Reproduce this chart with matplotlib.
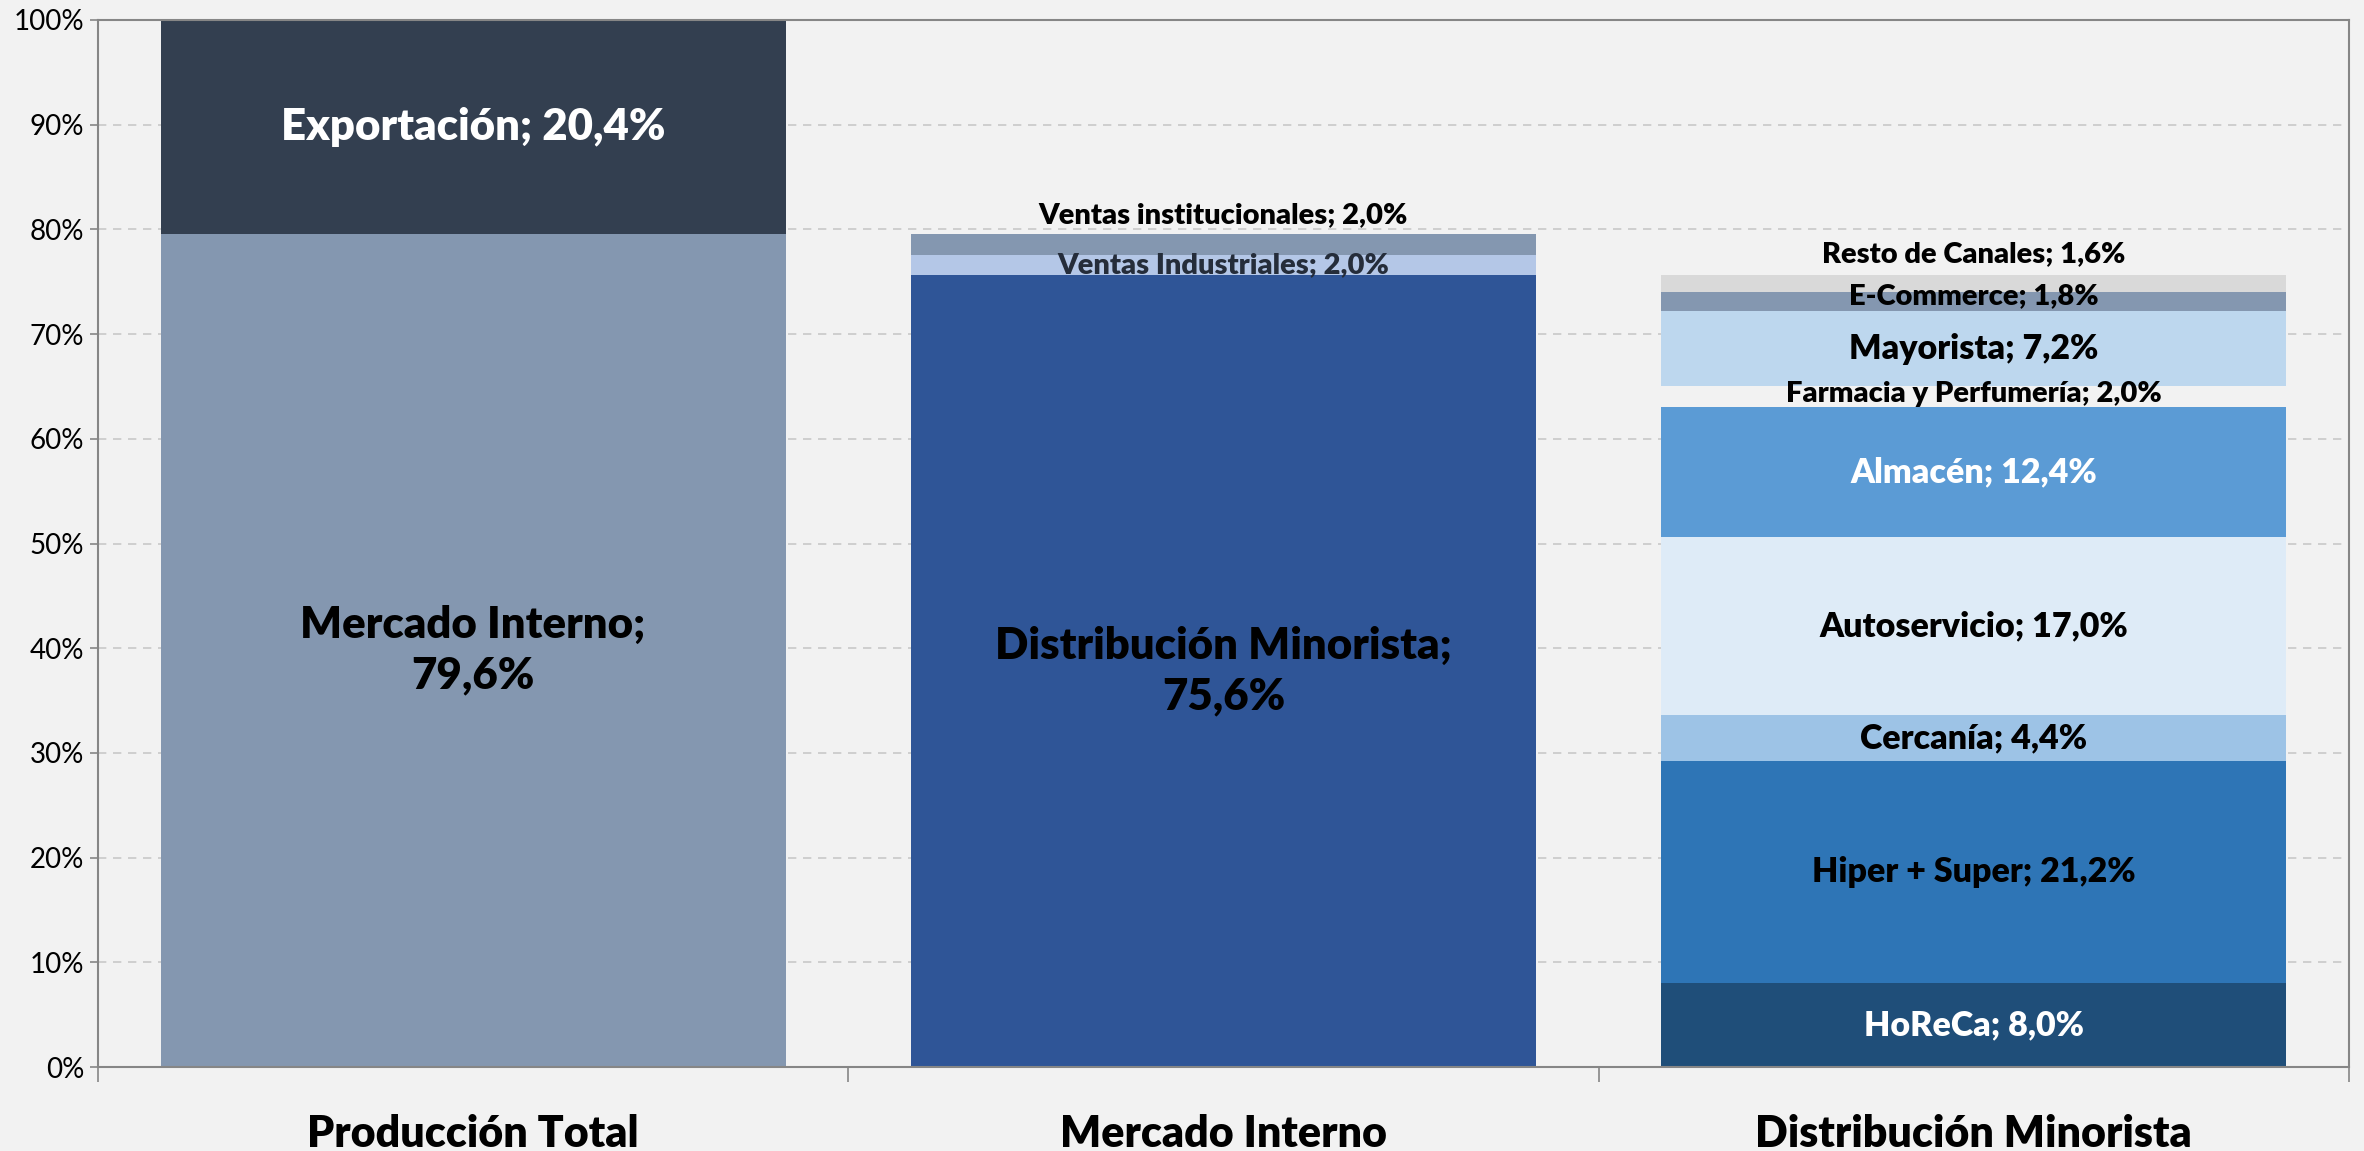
import matplotlib
matplotlib.use("Agg")
from matplotlib import pyplot as plt
import numpy as np

plt.rcParams['font.family'] = ['Lato', 'DejaVu Sans']

categorias = ["Producción Total", "Mercado Interno", "Distribución Minorista"]

prod_nombres = ["Mercado Interno", "Exportación"]
prod_valores = [79.6, 20.4]

mi_nombres = ["Distribución Minorista", "Ventas Industriales", "Ventas institucionales"]
mi_valores = [75.6, 2.0, 2.0]

dm_nombres = ["HoReCa", "Hiper + Super", "Cercanía", "Autoservicio", "Almacén",
              "Farmacia y Perfumería", "Mayorista", "E-Commerce", "Resto de Canales"]
dm_valores = [8.0, 21.2, 4.4, 17.0, 12.4, 2.0, 7.2, 1.8, 1.6]

# estilo de cada segmento: (color, color texto, tamaño, desplazamiento etiqueta, salto de linea)
estilo = {
    "Mercado Interno": ("#8497b0", "black", 31.5, 0, True),
    "Exportación": ("#333f50", "white", 31.5, 0, False),
    "Distribución Minorista": ("#2f5597", "black", 31.5, 0, True),
    "Ventas Industriales": ("#b4c7e7", "#252d3a", 21, 0, False),
    "Ventas institucionales": ("#8497b0", "black", 21, 2.8, False),
    "HoReCa": ("#1f4e79", "white", 24.5, 0, False),
    "Hiper + Super": ("#2e75b6", "black", 24.5, 0, False),
    "Cercanía": ("#9dc3e6", "black", 24.5, 0, False),
    "Autoservicio": ("#deebf7", "black", 24.5, 0, False),
    "Almacén": ("#5b9bd5", "white", 24.5, 0, False),
    "Farmacia y Perfumería": ("#f2f2f2", "black", 21, 0.3, False),
    "Mayorista": ("#bdd7ee", "black", 24.5, 0, False),
    "E-Commerce": ("#8497b0", "black", 21, 0.5, False),
    "Resto de Canales": ("#d9d9d9", "black", 21, 2.8, False),
}

fig = plt.figure(figsize=(23.64, 11.51), dpi=100)
fig.patch.set_facecolor("#f2f2f2")
ax = fig.add_axes([98 / 2364, 84 / 1151, 2251 / 2364, 1047 / 1151])
ax.set_facecolor("#f2f2f2")

ancho = 0.833
pilas = [(prod_nombres, prod_valores), (mi_nombres, mi_valores), (dm_nombres, dm_valores)]
for i, (nombres, valores) in enumerate(pilas):
    base = 0
    for nom, val in zip(nombres, valores):
        color, ctexto, tam, desp, salto = estilo[nom]
        ax.bar(i, val, width=ancho, bottom=base, color=color, zorder=2)
        valtxt = ("%.1f" % val).replace(".", ",")
        if salto:
            txt = nom + ";\n" + valtxt + "%"
        else:
            txt = nom + "; " + valtxt + "%"
        ax.text(i, base + val / 2 + desp, txt, ha="center", va="center",
                color=ctexto, fontsize=tam, fontweight="heavy", zorder=3,
                linespacing=1.3)
        base += val

ax.set_xlim(-0.5, 2.5)
ax.set_ylim(0, 100)
ax.set_yticks(np.arange(0, 101, 10))
ax.set_yticklabels(["%d%%" % v for v in range(0, 101, 10)], fontsize=20)
ax.set_xticks([0, 1, 2])
ax.set_xticklabels(categorias, fontsize=31, fontweight="heavy")
ax.set_xticks([-0.5, 0.5, 1.5, 2.5], minor=True)
ax.tick_params(axis="x", which="major", length=0, pad=34)
ax.tick_params(axis="x", which="minor", length=11, width=1.2, color="#868686")
ax.tick_params(axis="y", length=6, width=1.2, color="#868686", pad=4)

ax.yaxis.grid(True, linestyle=(0, (5, 4)), color="#c8c8c8", linewidth=1.2, zorder=0)
ax.set_axisbelow(True)
for s in ax.spines.values():
    s.set_color("#868686")
    s.set_linewidth(1.5)

fig.savefig("out.png", dpi=100, facecolor=fig.get_facecolor())
